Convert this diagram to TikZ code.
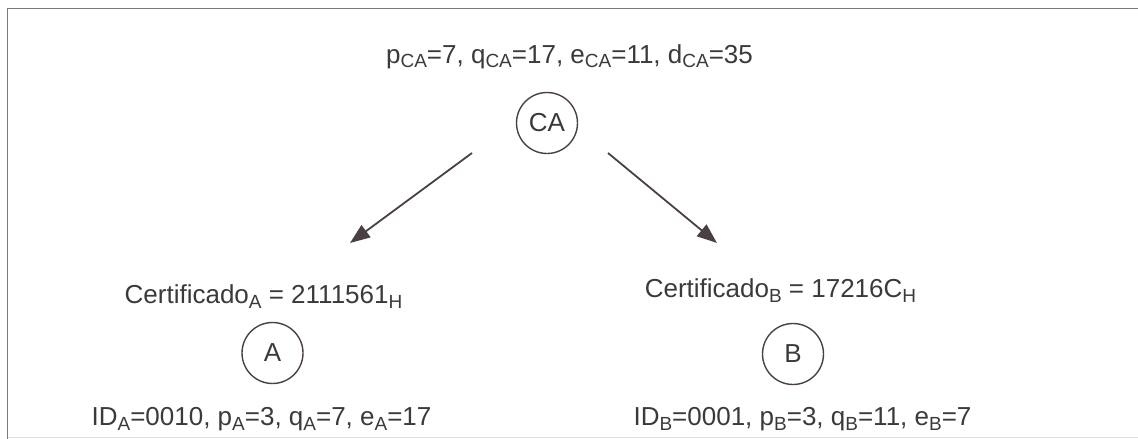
\documentclass[tikz,border=0pt]{standalone}
\usepackage{fontspec}
\setmainfont{Liberation Sans}
\usetikzlibrary{arrows.meta}
\definecolor{txt}{HTML}{3A3A3A}
\definecolor{ink}{HTML}{4A3F45}
\definecolor{frame}{HTML}{7A7A7A}
\newcommand{\lowsub}[1]{\raisebox{-5pt}{\fontsize{19}{19}\selectfont #1}}
\begin{document}
\begin{tikzpicture}[x=1pt,y=-1pt,
  lbl/.style={anchor=base,inner sep=0pt,text=txt,font=\fontsize{26}{30}\selectfont},
  party/.style={circle,draw=ink,line width=1.4pt,minimum size=61pt,inner sep=0pt,text=txt,font=\fontsize{26}{30}\selectfont},
  arr/.style={draw=ink,line width=1.8pt,-{Triangle[length=20pt,width=15pt]}}]
\useasboundingbox (0,0) rectangle (1138,439);
\draw[frame,line width=1.8pt] (7.5,439) -- (7.5,8.5) -- (1140,8.5);
\draw[black!12,line width=1pt] (7.5,437) -- (1138,437);
\node[lbl] (caparams) at (569.5,63) {p\lowsub{CA}=7, q\lowsub{CA}=17, e\lowsub{CA}=11, d\lowsub{CA}=35};
\node[party] (CA) at (547,123) {CA};
\node[lbl] (certA) at (263.5,303) {Certificado\lowsub{A} = 2111561\lowsub{H}};
\node[lbl] (certB) at (780.5,297) {Certificado\lowsub{B} = 17216C\lowsub{H}};
\node[party] (A) at (272.5,353) {A};
\node[party] (B) at (793,354) {B};
\node[lbl] (idA) at (261.5,425) {ID\lowsub{A}=0010, p\lowsub{A}=3, q\lowsub{A}=7, e\lowsub{A}=17};
\node[lbl] (idB) at (802.5,425) {ID\lowsub{B}=0001, p\lowsub{B}=3, q\lowsub{B}=11, e\lowsub{B}=7};
\coordinate (caL) at (472,153);
\coordinate (caR) at (608,153);
\coordinate (toA) at (350,243);
\coordinate (toB) at (717,243);
\draw[arr] (caL) -- (toA);
\draw[arr] (caR) -- (toB);
\end{tikzpicture}
\end{document}
